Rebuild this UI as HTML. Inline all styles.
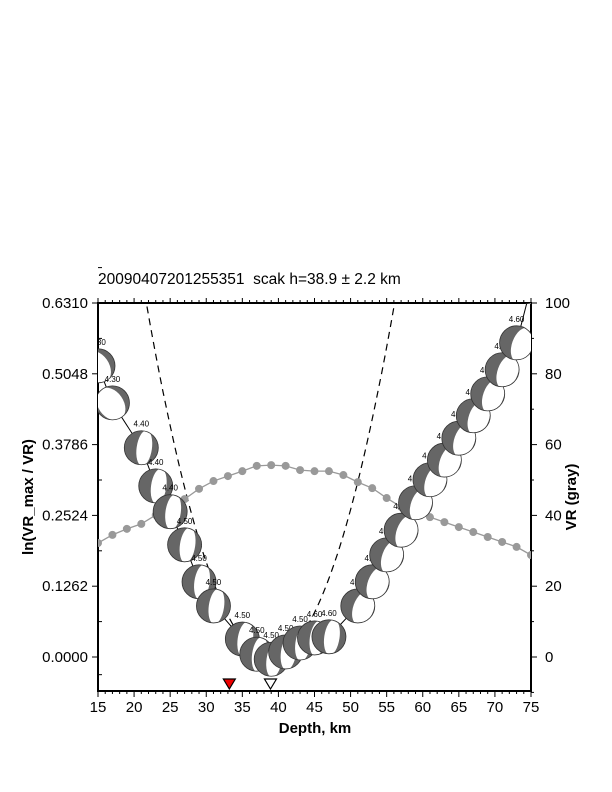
<!DOCTYPE html>
<html><head><meta charset="utf-8"><style>
html,body{margin:0;padding:0;background:#fff;}
svg{display:block;font-family:"Liberation Sans",Arial,sans-serif;}
</style></head><body>
<svg id="chart" width="612" height="792" viewBox="0 0 612 792" xmlns="http://www.w3.org/2000/svg">
<defs><clipPath id="plotclip"><rect x="98" y="303" width="433" height="388"/></clipPath></defs>
<text x="98" y="284" font-size="15.5" xml:space="preserve">20090407201255351  scak h=38.9 ± 2.2 km</text>
<g id="axes"></g>
<g id="marks"></g>
<text x="315" y="733" font-size="15" font-weight="bold" text-anchor="middle">Depth, km</text>
<text transform="translate(33,497) rotate(-90)" font-size="15" font-weight="bold" text-anchor="middle">ln(VR_max / VR)</text>
<text transform="translate(576,497) rotate(-90)" font-size="15" font-weight="bold" text-anchor="middle">VR (gray)</text>
</svg>
<script>
const ballDepths = [15,17,21,23,25,27,29,31,35,37,39,41,43,45,47,51,53,55,57,59,61,63,65,67,69,71,73,75];
const ballValues = [0.519,0.453,0.373,0.305,0.259,0.200,0.134,0.091,0.032,0.005,-0.004,0.009,0.025,0.034,0.036,0.091,0.134,0.182,0.226,0.275,0.316,0.351,0.390,0.430,0.469,0.512,0.560,0.660];
const ballMags = ["4.30","4.30","4.40","4.40","4.40","4.50","4.50","4.50","4.50","4.50","4.50","4.50","4.50","4.60","4.60","4.60","4.60","4.60","4.60","4.60","4.60","4.60","4.60","4.60","4.60","4.60","4.60","4.60"];
const vrDepths = [15,17,19,21,23,25,27,29,31,33,35,37,39,41,43,45,47,49,51,53,55,57,59,61,63,65,67,69,71,73,75];
const vrValues = [32.2,34.5,36.2,37.6,40.1,42.4,44.6,47.5,49.7,51.1,52.5,54.0,54.2,54.0,52.8,52.5,52.5,51.4,49.4,47.7,44.9,42.4,41.0,39.5,38.1,36.7,35.3,33.9,32.5,31.1,28.8];
const xTicks = [15,20,25,30,35,40,45,50,55,60,65,70,75];
const yTicks = [0.0000,0.1262,0.2524,0.3786,0.5048,0.6310];
const y2Ticks = [0,20,40,60,80,100];
const bestDepth = 38.9, fitCurv = 0.002133, markerDepth = 33.2;

const NS="http://www.w3.org/2000/svg";
const X0=98,X1=531,Y0=657,Ytop=303,Ybot=691;
const xs=d=>X0+(d-15)/60*(X1-X0);
const ys=v=>Y0-v/0.631*(Y0-Ytop);
const y2s=v=>Y0-v/100*(Y0-Ytop);
function el(tag,attrs,parent){const e=document.createElementNS(NS,tag);for(const k in attrs)e.setAttribute(k,attrs[k]);parent.appendChild(e);return e;}
const axes=document.getElementById('axes'), marks=document.getElementById('marks');
for(let d=15;d<=75;d++){
  const major=d%5===0;
  el('line',{x1:xs(d),x2:xs(d),y1:Ybot,y2:Ybot+(major?6:3),stroke:'#000','stroke-width':1},axes);
  el('line',{x1:xs(d),x2:xs(d),y1:Ytop,y2:Ytop-(major?5:3),stroke:'#000','stroke-width':1},axes);
}
xTicks.forEach(d=>{const t=el('text',{x:xs(d),y:Ybot+21,'font-size':15,'text-anchor':'middle'},axes);t.textContent=d;
  
  });
yTicks.forEach((v,i)=>{el('line',{x1:X0-6,x2:X0,y1:ys(v),y2:ys(v),stroke:'#000'},axes);
  el('line',{x1:X0,x2:X0+4,y1:ys(v+0.0631),y2:ys(v+0.0631),stroke:'#000'},axes);
  const t=el('text',{x:X0-10,y:ys(v)+5,'font-size':15,'text-anchor':'end'},axes);t.textContent=v.toFixed(4);
  
  });
el('line',{x1:X0,x2:X0+4,y1:ys(-0.0315),y2:ys(-0.0315),stroke:'#000'},axes);
for(let v=-10;v<=100;v+=10){el('line',{x1:X1,x2:X1+(v%20===0?6:3),y1:y2s(v),y2:y2s(v),stroke:'#000'},axes);}
y2Ticks.forEach(v=>{const t=el('text',{x:X1+14,y:y2s(v)+5,'font-size':15},axes);t.textContent=v;
  
  });

const clip=el('g',{'clip-path':'url(#plotclip)'},marks);
let p='';for(let d=15;d<=75;d+=0.25){const v=fitCurv*(d-bestDepth)**2;if(v>0.66)continue;p+=(p?'L':'M')+xs(d).toFixed(1)+','+ys(v).toFixed(1);}
const par=el('path',{d:p,fill:'none',stroke:'#000','stroke-width':1.2,'stroke-dasharray':'7,5'},clip);


const vl=el('polyline',{points:vrDepths.map((d,i)=>xs(d)+','+y2s(vrValues[i])).join(' '),fill:'none',stroke:'#999','stroke-width':1.3},clip);


vrDepths.forEach((d,i)=>{const c=el('circle',{cx:xs(d),cy:y2s(vrValues[i]),r:4,fill:'#999'},clip);
  
  });
const bl=el('polyline',{points:ballDepths.map((d,i)=>xs(d)+','+ys(ballValues[i])).join(' '),fill:'none',stroke:'#000','stroke-width':1},clip);


const R=17;
ballDepths.forEach((d,i)=>{
  const cx=xs(d),cy=ys(ballValues[i]);
  const lab=el('text',{x:cx,y:cy-R-4,'font-size':8,'text-anchor':'middle'},clip);lab.textContent=ballMags[i];
  
  
  const g=el('g',{},clip);
  
  
  const cid='bb'+i;const cp=el('clipPath',{id:cid},g);el('circle',{cx:cx,cy:cy,r:R},cp);
  let rot,off,w;
  if(d<=17){rot=-35;off=-2;w=0.75;}else if(d<=47){rot=8;off=3;w=0.45;}else{rot=20;off=6;w=0.6;}
  el('circle',{cx:cx,cy:cy,r:R,fill:'#666'},g);
  el('ellipse',{cx:cx+off,cy:cy,rx:R*w,ry:R*1.05,fill:'#fff',transform:`rotate(${rot} ${cx} ${cy})`,'clip-path':`url(#${cid})`},g);
  el('circle',{cx:cx,cy:cy,r:R,fill:'none',stroke:'#333','stroke-width':0.8},g);
});
const frame=el('rect',{x:X0,y:Ytop,width:X1-X0,height:Ybot-Ytop,fill:'none',stroke:'#000','stroke-width':2},axes);


const m1=el('path',{d:`M${xs(markerDepth)-6},${Ybot-12}L${xs(markerDepth)+6},${Ybot-12}L${xs(markerDepth)},${Ybot-2}Z`,fill:'#e00',stroke:'#000','stroke-width':1.2},marks);


const m2=el('path',{d:`M${xs(bestDepth)-6},${Ybot-12}L${xs(bestDepth)+6},${Ybot-12}L${xs(bestDepth)},${Ybot-2}Z`,fill:'#fff',stroke:'#000','stroke-width':1.2},marks);


</script>
</body></html>
